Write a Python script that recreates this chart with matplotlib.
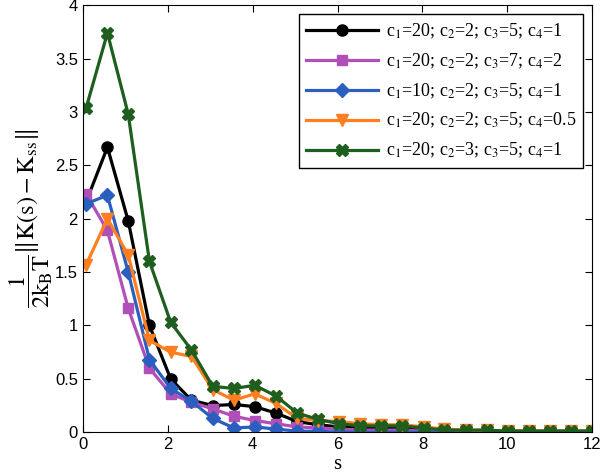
import numpy as np
import matplotlib
matplotlib.use("Agg")
import matplotlib.pyplot as plt

plt.rcParams['mathtext.fontset'] = 'stix'

s = [0.08, 0.58, 1.07, 1.57, 2.07, 2.56, 3.06, 3.56, 4.05, 4.55, 5.05, 5.54,
     6.04, 6.54, 7.03, 7.53, 8.03, 8.52, 9.02, 9.52, 10.01, 10.51, 11.01, 11.5, 12.0]

black = [2.16, 2.67, 1.98, 1.00, 0.50, 0.30, 0.25, 0.26, 0.24, 0.18, 0.10, 0.07,
         0.05, 0.04, 0.04, 0.03, 0.02, 0.02, 0.01, 0.01, 0.01, 0.01, 0.01, 0.01, 0.01]
magenta = [2.23, 1.89, 1.16, 0.60, 0.36, 0.28, 0.22, 0.15, 0.11, 0.08, 0.05, 0.04,
           0.03, 0.02, 0.02, 0.02, 0.01, 0.01, 0.01, 0.01, 0.01, 0.01, 0.01, 0.01, 0.01]
blue = [2.14, 2.22, 1.50, 0.68, 0.41, 0.29, 0.13, 0.04, 0.05, 0.03, 0.01, 0.01,
        0.0, 0.0, 0.0, 0.0, 0.0, 0.0, 0.0, 0.0, 0.0, 0.0, 0.0, 0.0, 0.0]
orange = [1.57, 2.00, 1.66, 0.86, 0.75, 0.71, 0.40, 0.30, 0.36, 0.27, 0.13, 0.11,
          0.10, 0.08, 0.07, 0.07, 0.05, 0.03, 0.02, 0.02, 0.01, 0.01, 0.01, 0.01, 0.01]
green = [3.04, 3.74, 2.98, 1.60, 1.03, 0.77, 0.43, 0.41, 0.44, 0.34, 0.18, 0.12,
         0.08, 0.06, 0.06, 0.06, 0.04, 0.02, 0.02, 0.02, 0.01, 0.01, 0.01, 0.01, 0.01]

labels = [r'c$_1$=20; c$_2$=2; c$_3$=5; c$_4$=1',
          r'c$_1$=20; c$_2$=2; c$_3$=7; c$_4$=2',
          r'c$_1$=10; c$_2$=2; c$_3$=5; c$_4$=1',
          r'c$_1$=20; c$_2$=2; c$_3$=5; c$_4$=0.5',
          r'c$_1$=20; c$_2$=3; c$_3$=5; c$_4$=1']
series = [black, magenta, blue, orange, green]
colors = ['black', '#B04FB8', '#2B5FBF', '#FF7F20', '#1E5E1E']
markers = ['o', 's', 'D', 'v', 'X']
msizes = [8, 6.5, 7, 8.5, 8]

fig = plt.figure(figsize=(6, 4.75), dpi=100)
ax = fig.add_axes([0.138, 0.09, 0.849, 0.899])

for y, c, m, ms, lab in zip(series, colors, markers, msizes, labels):
    ax.plot(s, y, color=c, marker=m, markersize=ms, linewidth=2.3, label=lab)

ax.set_xlim(0, 12)
ax.set_ylim(0, 4)
ax.set_xticks(range(0, 13, 2))
ax.set_yticks(np.arange(0, 4.01, 0.5))
ax.set_yticklabels(['0', '0.5', '1', '1.5', '2', '2.5', '3', '3.5', '4'])
ax.tick_params(direction='in', top=True, right=True, labelsize=12, length=5)
for lab in ax.get_xticklabels() + ax.get_yticklabels():
    lab.set_family('Liberation Sans')

ax.set_xlabel('s', family='Liberation Serif', fontsize=15, labelpad=2)
ax.set_ylabel(r'$\dfrac{1}{2\mathrm{k_B T}}\left\|\mathrm{K(s)} - \mathrm{K_{ss}}\right\|$',
              fontsize=17.5, labelpad=0)

leg = ax.legend(loc='upper right', prop={'family': 'Liberation Serif', 'size': 13},
                fancybox=False, edgecolor='black', framealpha=1, handlelength=4,
                handletextpad=0.4, borderaxespad=0.5, labelspacing=0.6,
                borderpad=0.4)
leg.get_frame().set_linewidth(1.0)

fig.savefig('out.png', dpi=100)
